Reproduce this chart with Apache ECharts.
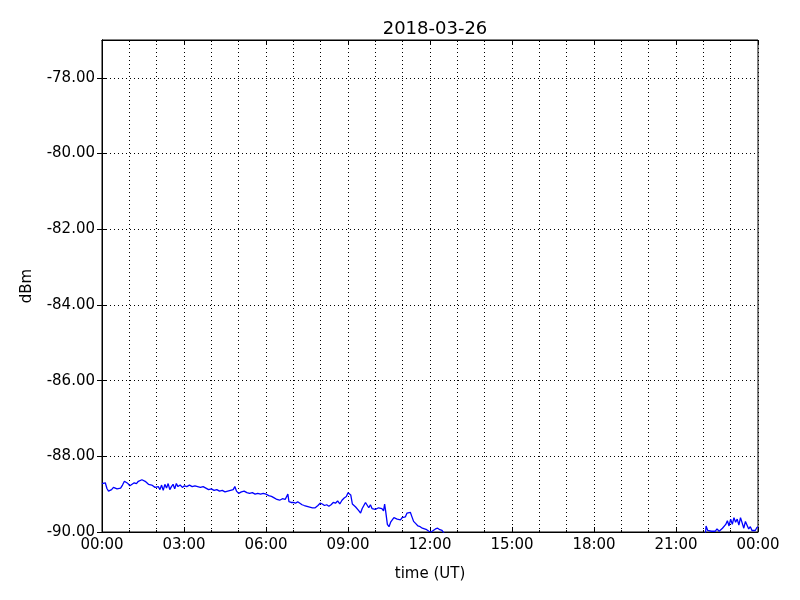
<!DOCTYPE html>
<html>
<head>
<meta charset="utf-8">
<script src="https://cdn.jsdelivr.net/npm/echarts@6/dist/echarts.min.js"></script>
<style>html,body{margin:0;padding:0;background:#fff}#c{width:800px;height:600px}</style>
</head>
<body>
<div id="c"></div>
<script>
const title = '2018-03-26';
const xTickHours = [0, 3, 6, 9, 12, 15, 18, 21, 24];
const yTicks = [-90, -88, -86, -84, -82, -80, -78];
const timesA = [0.00,0.05,0.12,0.18,0.24,0.29,0.35,0.42,0.48,0.55,0.62,0.68,0.75,0.82,0.88,0.95,1.02,1.10,1.18,1.26,1.33,1.40,1.46,1.52,1.58,1.64,1.70,1.76,1.82,1.88,1.94,2.00,2.06,2.12,2.18,2.24,2.30,2.36,2.42,2.48,2.54,2.60,2.66,2.72,2.78,2.86,2.94,3.02,3.10,3.20,3.30,3.40,3.50,3.60,3.70,3.80,3.90,4.00,4.10,4.20,4.30,4.40,4.50,4.60,4.70,4.80,4.86,4.92,5.00,5.10,5.20,5.30,5.40,5.50,5.60,5.70,5.80,5.90,6.00,6.10,6.20,6.30,6.40,6.50,6.60,6.70,6.76,6.80,6.84,6.92,7.00,7.08,7.16,7.24,7.32,7.40,7.50,7.60,7.70,7.80,7.90,7.98,8.06,8.14,8.22,8.30,8.38,8.46,8.54,8.62,8.70,8.78,8.86,8.94,9.00,9.05,9.10,9.16,9.22,9.28,9.34,9.40,9.46,9.52,9.58,9.64,9.70,9.76,9.82,9.88,9.94,10.00,10.06,10.12,10.18,10.24,10.30,10.34,10.38,10.44,10.50,10.56,10.62,10.68,10.74,10.80,10.86,10.92,10.98,11.04,11.10,11.16,11.22,11.28,11.34,11.40,11.48,11.56,11.64,11.72,11.80,11.88,11.96,12.04,12.12,12.20,12.28,12.36,12.44,12.52,12.60];
const valuesA = [-88.72,-88.75,-88.70,-88.85,-88.92,-88.96,-88.88,-88.82,-88.78,-88.86,-88.90,-88.84,-88.76,-88.66,-88.64,-88.72,-88.78,-88.74,-88.70,-88.72,-88.66,-88.66,-88.62,-88.58,-88.66,-88.68,-88.74,-88.70,-88.76,-88.80,-88.82,-88.86,-88.80,-88.88,-88.76,-88.90,-88.74,-88.84,-88.72,-88.88,-88.80,-88.74,-88.86,-88.72,-88.80,-88.76,-88.82,-88.78,-88.80,-88.76,-88.80,-88.78,-88.80,-88.82,-88.80,-88.84,-88.88,-88.86,-88.90,-88.88,-88.92,-88.90,-88.94,-88.92,-88.90,-88.88,-88.80,-88.92,-88.98,-88.94,-88.92,-88.96,-88.98,-88.96,-89.00,-88.98,-89.00,-88.98,-89.00,-89.04,-89.06,-89.10,-89.14,-89.16,-89.12,-89.14,-89.16,-89.00,-89.20,-89.22,-89.22,-89.24,-89.20,-89.24,-89.28,-89.30,-89.32,-89.34,-89.36,-89.36,-89.30,-89.24,-89.26,-89.30,-89.28,-89.32,-89.28,-89.22,-89.24,-89.18,-89.26,-89.16,-89.10,-89.06,-88.96,-88.94,-89.02,-89.26,-89.30,-89.34,-89.32,-89.44,-89.50,-89.38,-89.36,-89.22,-89.26,-89.36,-89.28,-89.38,-89.34,-89.40,-89.42,-89.36,-89.40,-89.38,-89.44,-89.26,-89.46,-89.80,-89.86,-89.74,-89.70,-89.62,-89.60,-89.66,-89.64,-89.68,-89.62,-89.66,-89.60,-89.50,-89.46,-89.48,-89.60,-89.72,-89.78,-89.84,-89.86,-89.90,-89.92,-89.94,-89.98,-90.00,-89.96,-89.92,-89.90,-89.94,-89.96,-90.04,-90.30];
const timesB = [22.05,22.10,22.16,22.22,22.30,22.36,22.44,22.50,22.58,22.64,22.70,22.76,22.82,22.88,22.94,23.00,23.06,23.12,23.18,23.24,23.30,23.36,23.42,23.48,23.54,23.60,23.66,23.72,23.78,23.84,23.90,23.96,24.00];
const valuesB = [-90.30,-89.84,-89.96,-89.92,-89.98,-89.94,-89.98,-89.92,-89.98,-89.96,-89.90,-89.94,-89.80,-89.70,-89.84,-89.66,-89.80,-89.62,-89.74,-89.66,-89.82,-89.62,-89.76,-89.90,-89.72,-89.76,-89.92,-89.86,-89.96,-89.94,-89.96,-89.88,-89.86];

const data = [];
timesA.forEach((t, i) => data.push([t, valuesA[i]]));
data.push([17, null]);
timesB.forEach((t, i) => data.push([t, valuesB[i]]));

const font = 'DejaVu Sans';
const fmtTime = v => String(Math.round(v) % 24).padStart(2, '0') + ':00';
const gridLine = {show: true, lineStyle: {color: '#000', type: [1, 3], width: 1}};
const xCommon = {type: 'value', min: xTickHours[0], max: xTickHours[xTickHours.length - 1], interval: 3,
  axisLine: {lineStyle: {color: '#000', width: 1}}, axisTick: {inside: true, length: 5, lineStyle: {color: '#000'}},
  minorTick: {show: true, splitNumber: 3, length: 2, lineStyle: {color: '#000'}}};
const yCommon = {type: 'value', min: yTicks[0], max: -77, interval: 2,
  axisLine: {lineStyle: {color: '#000', width: 1}},
  axisTick: {inside: true, length: 5, customValues: yTicks, lineStyle: {color: '#000'}}};

const chart = echarts.init(document.getElementById('c'));
chart.setOption({
  animation: false,
  backgroundColor: '#fff',
  title: {text: title, left: 430, top: 15, textAlign: 'center',
    textStyle: {fontFamily: font, fontSize: 18, fontWeight: 'normal', color: '#000'}},
  grid: {left: 102, right: 42, top: 40, bottom: 68, show: true, borderColor: '#000', borderWidth: 1},
  xAxis: [
    Object.assign({}, xCommon, {position: 'bottom', name: 'time (UT)', nameLocation: 'middle', nameGap: 35,
      nameTextStyle: {fontFamily: font, fontSize: 15, color: '#000'},
      axisLabel: {formatter: fmtTime, fontFamily: font, fontSize: 15, color: '#000', margin: 6},
      splitLine: gridLine, minorSplitLine: gridLine}),
    Object.assign({}, xCommon, {position: 'top', axisLabel: {show: false}, splitLine: {show: false}})
  ],
  yAxis: [
    Object.assign({}, yCommon, {position: 'left', name: 'dBm', nameLocation: 'middle', nameGap: 67,
      nameTextStyle: {fontFamily: font, fontSize: 15, color: '#000'},
      axisLabel: {formatter: v => v.toFixed(2), customValues: yTicks, fontFamily: font, fontSize: 15, color: '#000', margin: 7},
      splitLine: gridLine}),
    Object.assign({}, yCommon, {position: 'right', axisLabel: {show: false}, splitLine: {show: false}})
  ],
  series: [{type: 'line', data: data, showSymbol: false, symbol: 'none', connectNulls: false, clip: true,
    lineStyle: {color: '#0000ff', width: 1.3}, itemStyle: {color: '#0000ff'}}]
});
</script>
</body>
</html>
